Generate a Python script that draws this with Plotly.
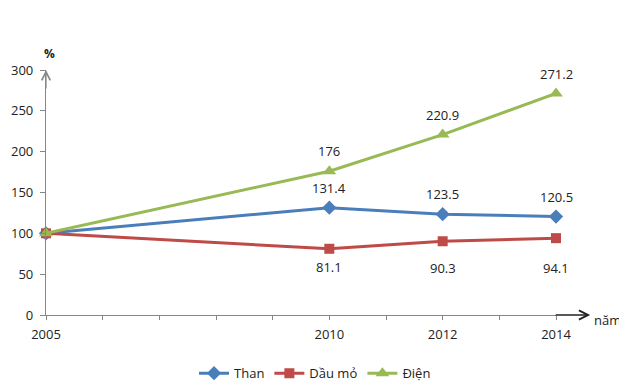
import plotly.graph_objects as go

years = [2005, 2010, 2012, 2014]
than = [100, 131.4, 123.5, 120.5]
dau_mo = [100, 81.1, 90.3, 94.1]
dien = [100, 176, 220.9, 271.2]
labeled_years = [2005, 2010, 2012, 2014]
y_ticks = [0, 50, 100, 150, 200, 250, 300]

FONT = "Open Sans"
AXIS = "#868686"
TXT = "#222222"

# name, values, colour, symbol, marker size, label offset (px, + = above)
series = [
    ("Than", than, "#4A7EBB", "diamond", 11, [20, 20, 20]),
    ("Dầu mỏ", dau_mo, "#BE4B48", "square", 10, [-18, -27, -30]),
    ("Điện", dien, "#98B954", "triangle-up", 12, [20, 20, 20]),
]

fig = go.Figure()
for name, vals, color, sym, size, _ in series:
    fig.add_trace(go.Scatter(
        x=years, y=vals, name=name, mode="lines+markers",
        line=dict(color=color, width=3),
        marker=dict(symbol=sym, size=size, color=color),
        cliponaxis=False,
    ))

annotations = []
for name, vals, color, sym, size, shifts in series:
    for i, (xv, yv) in enumerate(zip(years, vals)):
        if i == 0:
            continue
        annotations.append(dict(
            x=xv, y=yv, xref="x", yref="y", text=f"{yv:g}",
            showarrow=False, yshift=shifts[i - 1],
            font=dict(family=FONT, size=13, color=TXT),
        ))

# axis arrows
annotations.append(dict(x=1.067, y=0, xref="paper", yref="y", ax=-36, ay=0,
                        text="", showarrow=True,
                        arrowhead=5, arrowsize=1.4, arrowwidth=1.3, arrowcolor="#222222"))
annotations.append(dict(x=2005, y=300, xref="x", yref="y", ax=0, ay=20,
                        text="", showarrow=True,
                        arrowhead=5, arrowsize=1.4, arrowwidth=1.2, arrowcolor=AXIS))
annotations.append(dict(x=0, y=1, xref="paper", yref="paper", text="<b>%</b>",
                        showarrow=False, yshift=27, xshift=-4,
                        font=dict(family=FONT, size=12, color=TXT)))
annotations.append(dict(x=1.067, y=0, xref="paper", yref="y", text="năm",
                        showarrow=False, xanchor="left", xshift=2, yshift=-5,
                        font=dict(family=FONT, size=13, color=TXT)))

all_years = list(range(2005, 2015))
# page has an 8px body margin; figure sized to fit the 627x388 window
fig.update_layout(
    width=619, height=380,
    margin=dict(l=38, r=71, t=62, b=73, autoexpand=False),
    paper_bgcolor="white", plot_bgcolor="white",
    font=dict(family=FONT, size=13, color=TXT),
    showlegend=True,
    legend=dict(orientation="h", xref="container", yref="container",
                x=0.496, y=0.039, xanchor="center", yanchor="middle",
                font=dict(family=FONT, size=13, color=TXT), itemwidth=30,
                bgcolor="rgba(0,0,0,0)"),
    xaxis=dict(range=[2005, 2014], showgrid=False, zeroline=False,
               showline=True, linecolor=AXIS, linewidth=1.2,
               ticks="outside", ticklen=4, tickcolor=AXIS,
               tickvals=all_years, ticklabelstandoff=3,
               ticktext=[str(y) if y in labeled_years else "" for y in all_years],
               tickfont=dict(family=FONT, size=13, color=TXT)),
    yaxis=dict(range=[0, 300], showgrid=False, zeroline=False,
               showline=True, linecolor=AXIS, linewidth=1.2,
               ticks="outside", ticklen=5, tickcolor=AXIS,
               tickvals=y_ticks, ticklabelstandoff=4,
               tickfont=dict(family=FONT, size=13, color=TXT)),
    annotations=annotations,
)

fig.write_html("out.html")
